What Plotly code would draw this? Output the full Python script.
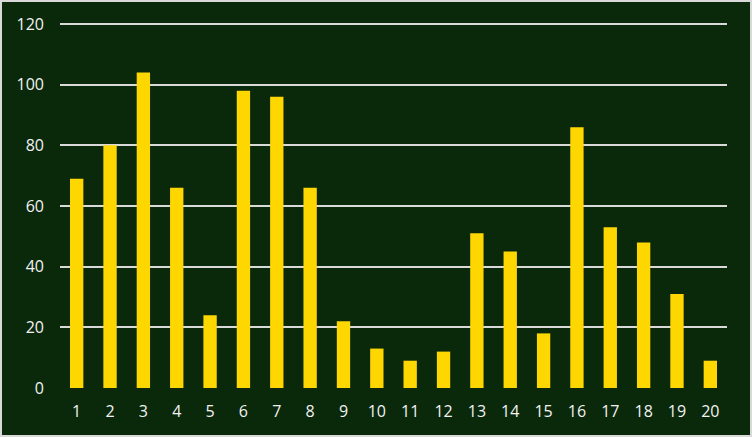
import plotly.graph_objects as go

categories = [str(i) for i in range(1, 21)]
values = [69, 80, 104, 66, 24, 98, 96, 66, 22, 13, 9, 12, 51, 45, 18, 86, 53, 48, 31, 9]
y_ticks = [0, 20, 40, 60, 80, 100, 120]

W, H = 752, 437
ml, mr, mt, mb = 60, 25, 21, 49
pw, ph = W - ml - mr, H - mt - mb

fig = go.Figure(go.Bar(x=categories, y=values, marker=dict(color="#FFD700", line=dict(width=0)),
                       hoverinfo="x+y"))

fig.update_layout(
    width=W, height=H,
    margin=dict(l=ml, r=mr, t=mt, b=mb),
    paper_bgcolor="#0A290B", plot_bgcolor="#0A290B",
    bargap=0.6,
    showlegend=False,
    font=dict(family="Open Sans, sans-serif", size=16, color="#F2F2F2"),
    xaxis=dict(type="category", showgrid=False, zeroline=False, showline=False,
               ticks="", ticklabelstandoff=12, tickfont=dict(size=16, color="#F2F2F2")),
    yaxis=dict(range=[0, 121], tickvals=y_ticks, showgrid=True, gridcolor="#D9D9D9",
               gridwidth=2, zeroline=False, showline=False, ticks="",
               ticklabelstandoff=15, tickfont=dict(size=16, color="#F2F2F2")),
    shapes=[dict(type="rect", xref="paper", yref="paper",
                 x0=(1 - ml) / pw, x1=(W - 1 - ml) / pw,
                 y0=(mt + ph - (H - 1)) / ph, y1=(mt + ph - 1) / ph,
                 line=dict(color="#D9D9D9", width=2), layer="below")],
)

fig.write_html("out.html", config={"displayModeBar": False},
               post_script="document.body.style.margin='0';document.body.style.padding='0';")
